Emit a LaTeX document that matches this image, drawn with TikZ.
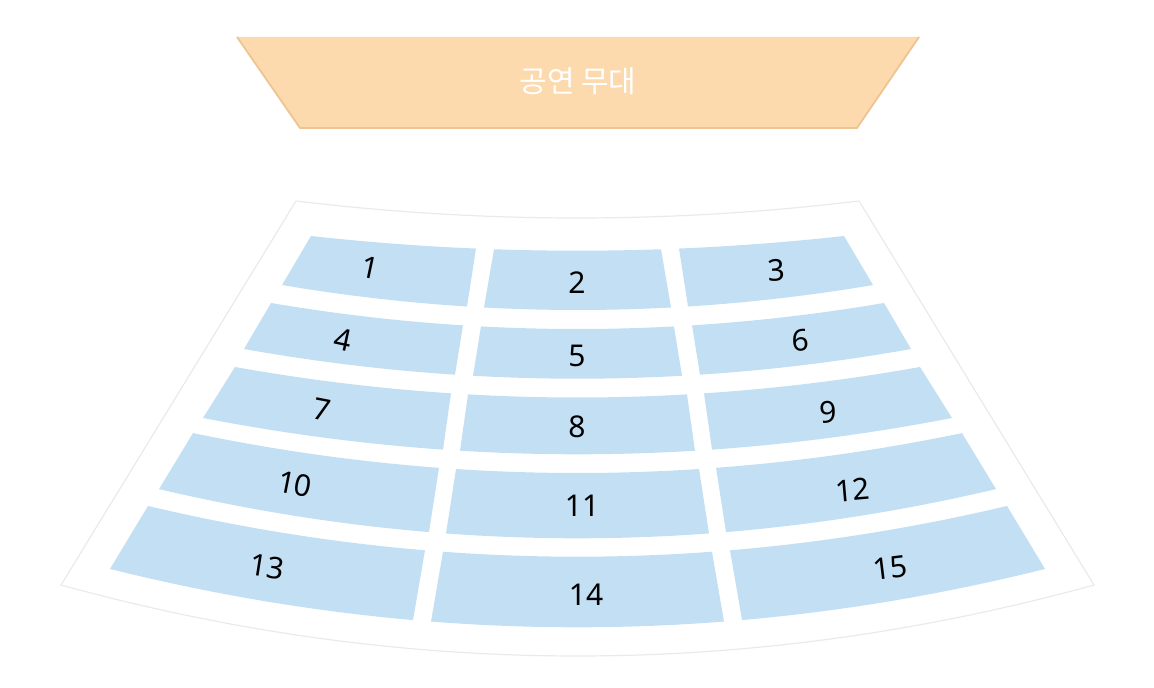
\documentclass[tikz,border=0pt]{standalone}
\usepackage{fontspec}
\usepackage{tikz}
\setmainfont{Noto Sans}
\newfontfamily\kor{Noto Sans CJK KR}
\definecolor{seatblue}{RGB}{195,223,243}
\definecolor{stageorange}{RGB}{253,217,174}
\definecolor{stageedge}{RGB}{238,196,146}
\definecolor{hallgray}{RGB}{234,234,234}

\begin{document}
\begin{tikzpicture}[x=0.5pt,y=-0.5pt,
    declare function={bow(\x,\m,\k)=\m-\k*((\x-577.5)/100)^2;},
    seat/.style={fill=seatblue},
    num/.style={font=\fontsize{15}{18}\selectfont,text=black}]
    \useasboundingbox (0,0) rectangle (1154,688);

    % Stage
    \fill[stageorange] (237,37) -- (919,37) -- (857,128) -- (300,128) -- cycle;
    \draw[stageedge,line width=0.9pt,line join=round] (237,37) -- (300,128) -- (857,128) -- (919,37);
    \node[text=white,font=\kor\fontsize{15}{18}\selectfont] (stage) at (578,81) {공연 무대};

    % Hall outline
    \draw[hallgray,line width=0.6pt,samples=60] plot[domain=296:859] (\x,{bow(\x,218,2.15)})
        -- (1094,585) -- plot[domain=1094:61] (\x,{bow(\x,656,2.66)}) -- cycle;

    % Row 1
    \fill[seat] plot[domain=311:476] (\x,{bow(\x,250.7,2.07)}) -- plot[domain=467:282] (\x,{bow(\x,310,2.86)}) -- cycle;
    \fill[seat] plot[domain=494:661] (\x,{bow(\x,250.7,2.07)}) -- plot[domain=671:484] (\x,{bow(\x,310,2.86)}) -- cycle;
    \fill[seat] plot[domain=679:844] (\x,{bow(\x,250.7,2.07)}) -- plot[domain=873:688] (\x,{bow(\x,310,2.86)}) -- cycle;
    % Row 2
    \fill[seat] plot[domain=271:463] (\x,{bow(\x,329,2.77)}) -- plot[domain=455:244] (\x,{bow(\x,378.7,2.67)}) -- cycle;
    \fill[seat] plot[domain=481:674] (\x,{bow(\x,329,2.77)}) -- plot[domain=682:473] (\x,{bow(\x,378.7,2.67)}) -- cycle;
    \fill[seat] plot[domain=692:884] (\x,{bow(\x,329,2.77)}) -- plot[domain=911:700] (\x,{bow(\x,378.7,2.67)}) -- cycle;
    % Row 3
    \fill[seat] plot[domain=235:451] (\x,{bow(\x,397.5,2.6)}) -- plot[domain=443:203] (\x,{bow(\x,454.3,2.59)}) -- cycle;
    \fill[seat] plot[domain=468:687] (\x,{bow(\x,397.5,2.6)}) -- plot[domain=695:460] (\x,{bow(\x,454.3,2.59)}) -- cycle;
    \fill[seat] plot[domain=704:920] (\x,{bow(\x,397.5,2.6)}) -- plot[domain=952:712] (\x,{bow(\x,454.3,2.59)}) -- cycle;
    % Row 4
    \fill[seat] plot[domain=193:439] (\x,{bow(\x,473,2.7)}) -- plot[domain=429:159] (\x,{bow(\x,538.3,2.81)}) -- cycle;
    \fill[seat] plot[domain=456:699] (\x,{bow(\x,473,2.7)}) -- plot[domain=709:446] (\x,{bow(\x,538.3,2.81)}) -- cycle;
    \fill[seat] plot[domain=716:962] (\x,{bow(\x,473,2.7)}) -- plot[domain=996:726] (\x,{bow(\x,538.3,2.81)}) -- cycle;
    % Row 5
    \fill[seat] plot[domain=148:425] (\x,{bow(\x,556.7,2.75)}) -- plot[domain=413:110] (\x,{bow(\x,627.3,2.67)}) -- cycle;
    \fill[seat] plot[domain=443:712] (\x,{bow(\x,556.7,2.75)}) -- plot[domain=724:431] (\x,{bow(\x,627.3,2.67)}) -- cycle;
    \fill[seat] plot[domain=730:1007] (\x,{bow(\x,556.7,2.75)}) -- plot[domain=1045:742] (\x,{bow(\x,627.3,2.67)}) -- cycle;

    % Section numbers
    \node[num,rotate=-12] (n1) at (370,268) {1};
    \node[num] (n2) at (577,283) {2};
    \node[num,rotate=3] (n3) at (776,270) {3};
    \node[num,rotate=-12] (n4) at (343,340) {4};
    \node[num] (n5) at (577,356) {5};
    \node[num,rotate=3] (n6) at (800,340) {6};
    \node[num,rotate=-11] (n7) at (322,410) {7};
    \node[num] (n8) at (577,427) {8};
    \node[num,rotate=4] (n9) at (828,412) {9};
    \node[num,rotate=-11] (n10) at (295,484) {10};
    \node[num] (n11) at (582,506) {11};
    \node[num,rotate=5] (n12) at (853,490) {12};
    \node[num,rotate=-9] (n13) at (267,567) {13};
    \node[num] (n14) at (586,595) {14};
    \node[num,rotate=7] (n15) at (890,568) {15};
\end{tikzpicture}
\end{document}
